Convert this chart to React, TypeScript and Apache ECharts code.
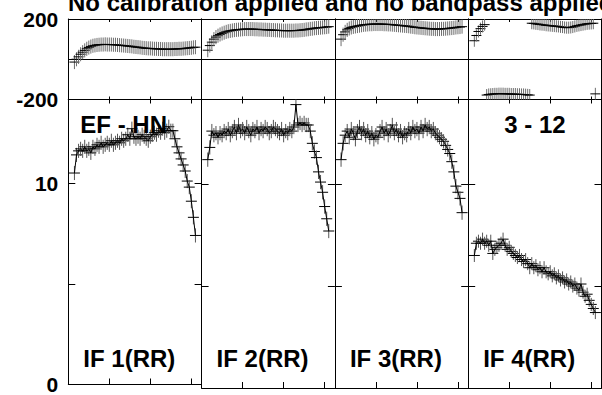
import React, { useEffect, useRef } from "react";
import * as echarts from "echarts";

const titleText = "No calibration applied and no bandpass applied";
const baselineLabel = ["EF - HN", "", "", "3 - 12"];
const panelLabels = ["IF 1(RR)", "IF 2(RR)", "IF 3(RR)", "IF 4(RR)"];

const channels = [
  3, 4, 5, 6, 7, 8, 9, 10, 11, 12, 13, 14, 15, 16, 17, 18, 19, 20, 21, 22,
  23, 24, 25, 26, 27, 28, 29, 30, 31, 32, 33, 34, 35, 36, 37, 38, 39, 40, 41, 42,
  43, 44, 45, 46, 47, 48, 49, 50, 51, 52, 53, 54, 55, 56, 57, 58, 59, 60, 61, 62,
];
const xTickValues = [20, 40, 60];
const ampTickValues = [5, 10];
const ampLabelValues = [0, 10];
const phaseLabelValues = [-200, 200];

const phaseIF1 = [
  -14, 0, 12, 25, 35, 44, 52, 58, 63, 67,
  69, 71, 72, 73, 73, 74, 73, 73, 73, 72,
  72, 71, 70, 69, 68, 67, 66, 65, 64, 62,
  61, 60, 59, 57, 56, 55, 54, 54, 53, 52,
  52, 51, 51, 50, 50, 50, 50, 50, 50, 51,
  51, 52, 52, 53, 54, 55, 56, 57, 59, 60,
];
const phaseIF2 = [
  45, 68, 85, 100, 110, 117, 123, 128, 132, 136,
  139, 141, 143, 145, 146, 147, 148, 149, 150, 150,
  150, 150, 150, 149, 149, 148, 148, 147, 147, 146,
  146, 145, 145, 144, 144, 143, 143, 142, 142, 142,
  142, 142, 142, 143, 143, 144, 145, 146, 148, 149,
  151, 152, 154, 155, 156, 157, 158, 159, 160, 162,
];
const phaseIF3 = [
  100, 122, 136, 146, 153, 158, 161, 163, 165, 167,
  169, 171, 172, 173, 174, 174, 175, 175, 175, 175,
  175, 174, 174, 173, 173, 172, 171, 170, 169, 168,
  167, 166, 165, 164, 162, 161, 159, 158, 157, 156,
  155, 154, 153, 152, 151, 151, 150, 150, 150, 151,
  151, 152, 153, 154, 155, 156, 158, 159, 160, 162,
];
const phaseIF4 = [
  92, 118, 138, 152, 163, 172, -178, -175, -174, -173,
  -172, -172, -171, -171, -171, -172, -172, -172, -173, -173,
  -173, -174, -174, -175, -175, -176, -177, -178, 179, 178,
  176, 175, 173, 172, 171, 169, 168, 167, 166, 165,
  164, 163, 161, 160, 158, 157, 157, 158, 160, 163,
  166, 168, 170, 172, 174, 176, 177, 178, 179, -172,
];

const ampIF1 = [
  10.5, 11.4, 11.6, 11.7, 11.6, 11.8, 11.6, 11.7, 11.5, 11.8,
  11.7, 11.9, 11.8, 12.0, 11.8, 11.9, 12.0, 11.9, 12.1, 11.9,
  12.0, 12.1, 12.0, 12.2, 12.1, 12.2, 12.4, 12.2, 12.7, 12.3,
  12.2, 12.3, 12.2, 12.4, 12.3, 12.2, 12.1, 12.3, 12.4, 12.5,
  12.4, 12.6, 12.5, 12.7, 12.5, 12.6, 12.8, 12.6, 12.6, 12.2,
  11.8, 11.5, 11.2, 10.9, 10.6, 10.1, 9.8, 9.1, 8.3, 7.4,
];
const ampIF2 = [
  11.2, 11.8, 12.6, 12.4, 12.5, 12.3, 12.5, 12.4, 12.6, 12.5,
  12.7, 12.4, 12.6, 12.8, 12.5, 12.9, 12.6, 12.7, 12.5, 12.8,
  12.6, 12.4, 12.7, 12.6, 12.8, 12.5, 12.7, 12.6, 12.8, 12.7,
  12.5, 12.6, 12.8, 12.7, 12.6, 12.5, 12.7, 12.4, 12.6, 12.5,
  12.7, 12.6, 12.8, 13.9, 12.9, 13.0, 12.9, 13.0, 12.9, 12.9,
  12.6, 12.0, 11.6, 11.3, 10.6, 10.1, 9.6, 8.9, 8.3, 7.7,
];
const ampIF3 = [
  11.2, 12.0, 12.4, 12.6, 12.3, 12.7, 12.5, 12.2, 12.6, 12.8,
  12.5, 12.7, 12.4, 12.6, 12.3, 12.5, 12.2, 12.4, 12.3, 12.6,
  12.8, 12.5, 12.7, 12.4, 12.6, 12.9, 12.5, 12.7, 12.4, 12.6,
  12.3, 12.5, 12.4, 12.7, 12.5, 12.8, 12.6, 12.7, 12.5, 12.8,
  12.6, 12.9, 12.7, 12.8, 12.6, 12.7, 12.5, 12.4, 12.3, 12.2,
  12.1, 11.9, 11.7, 11.5, 11.1, 10.6, 9.9, 9.6, 9.3, 8.6,
];
const ampIF4 = [
  6.5, 7.1, 7.2, 7.1, 7.3, 7.1, 7.2, 7.0, 7.2, 6.6,
  6.8, 6.9, 7.0, 7.1, 7.3, 7.0, 6.8, 6.9, 6.7, 6.6,
  6.5, 6.4, 6.5, 6.3, 6.2, 6.3, 6.1, 5.9, 6.1, 5.9,
  6.0, 5.8, 5.9, 5.7, 5.9, 5.7, 5.6, 5.7, 5.5, 5.6,
  5.4, 5.5, 5.3, 5.4, 5.2, 5.3, 5.1, 5.2, 5.0, 5.1,
  4.9, 4.8, 5.1, 4.7, 4.5, 4.6, 4.3, 4.1, 3.9, 3.7,
];

const phaseErr = [35, 35, 35, 30];
const ampErr = [0.35, 0.35, 0.35, 0.32];

const phases = [phaseIF1, phaseIF2, phaseIF3, phaseIF4];
const amps = [ampIF1, ampIF2, ampIF3, ampIF4];

const FONT = '"Liberation Sans", Arial, sans-serif';

export default function App() {
  const ref = useRef<HTMLDivElement>(null);

  useEffect(() => {
    if (!ref.current) return;
    const chart = echarts.init(ref.current, undefined, { renderer: "svg" });

    const left0 = 68.3;
    const pw = 133.3;
    const phTop = 19;
    const phH = 80.5;
    const amTop = 99.5;
    const amH = 288.5;

    const grids: any[] = [];
    const xAxes: any[] = [];
    const yAxes: any[] = [];
    const series: any[] = [];

    const lineStyle = { color: "#000", width: 1 };
    const labelStyle = {
      color: "#000",
      fontSize: 21,
      fontWeight: "bold",
      fontFamily: FONT,
      margin: 10,
    };

    const crossRender = (hw: number, vColor: string) => (params: any, api: any) => {
      const x = api.value(0);
      const y = api.value(1);
      const e = api.value(2);
      const p = api.coord([x, y]);
      const t = api.coord([x, y + e]);
      const b = api.coord([x, y - e]);
      const cs = params.coordSys;
      const y1 = Math.max(cs.y, Math.min(cs.y + cs.height, t[1]));
      const y2 = Math.max(cs.y, Math.min(cs.y + cs.height, b[1]));
      return {
        type: "group",
        children: [
          {
            type: "line",
            shape: { x1: p[0], y1, x2: p[0], y2 },
            style: { stroke: vColor, lineWidth: 1 },
          },
          {
            type: "line",
            shape: { x1: p[0] - hw, y1: p[1], x2: p[0] + hw, y2: p[1] },
            style: { stroke: "#000", lineWidth: 1 },
          },
        ],
      };
    };

    for (let i = 0; i < 4; i++) {
      grids.push({ left: left0 + i * pw, top: phTop, width: pw, height: phH, containLabel: false });
    }
    for (let i = 0; i < 4; i++) {
      grids.push({ left: left0 + i * pw, top: amTop, width: pw, height: amH, containLabel: false });
    }

    for (let g = 0; g < 8; g++) {
      const isAmp = g >= 4;
      const i = g % 4;
      xAxes.push({
        gridIndex: g,
        type: "value",
        min: 0,
        max: 65,
        interval: 20,
        position: "bottom",
        axisLine: { show: true, onZero: false, lineStyle },
        axisTick: {
          show: true,
          inside: true,
          length: isAmp ? 6 : 3,
          lineStyle,
          customValues: xTickValues,
        },
        axisLabel: { show: false },
        splitLine: { show: false },
      });
      xAxes.push({
        gridIndex: g,
        type: "value",
        min: 0,
        max: 65,
        interval: 20,
        position: "top",
        axisLine: { show: true, onZero: false, lineStyle },
        axisTick: {
          show: true,
          inside: true,
          length: isAmp ? 4 : 3,
          lineStyle,
          customValues: xTickValues,
        },
        axisLabel: { show: false },
        splitLine: { show: false },
      });
      if (!isAmp) {
        yAxes.push({
          gridIndex: g,
          type: "value",
          min: -200,
          max: 200,
          interval: 200,
          position: "left",
          axisLine: { show: true, onZero: false, lineStyle },
          axisTick: { show: false },
          axisLabel: {
            show: i === 0,
            ...labelStyle,
            customValues: phaseLabelValues,
          },
          splitLine: { show: true, lineStyle },
        });
      } else {
        yAxes.push({
          gridIndex: g,
          type: "value",
          min: 0,
          max: 14.15,
          interval: 5,
          position: "left",
          axisLine: { show: true, onZero: false, lineStyle },
          axisTick: {
            show: true,
            inside: true,
            length: 7,
            lineStyle,
            customValues: ampTickValues,
          },
          axisLabel: {
            show: i === 0,
            ...labelStyle,
            customValues: ampLabelValues,
          },
          splitLine: { show: false },
        });
      }
      yAxes.push({
        gridIndex: g,
        type: "value",
        min: isAmp ? 0 : -200,
        max: isAmp ? 14.15 : 200,
        interval: isAmp ? 5 : 200,
        position: "right",
        axisLine: { show: true, onZero: false, lineStyle },
        axisTick: {
          show: isAmp,
          inside: true,
          length: 7,
          lineStyle,
          customValues: ampTickValues,
        },
        axisLabel: { show: false },
        splitLine: { show: false },
      });
    }

    for (let i = 0; i < 4; i++) {
      const ph = phases[i];
      const am = amps[i];
      series.push({
        type: "custom",
        xAxisIndex: i * 2,
        yAxisIndex: i * 2,
        renderItem: crossRender(5, "#6e6e6e"),
        data: channels.map((c, k) => [c, ph[k], phaseErr[i]]),
        silent: true,
      });
      series.push({
        type: "line",
        xAxisIndex: (4 + i) * 2,
        yAxisIndex: (4 + i) * 2,
        data: channels.map((c, k) => [c, am[k]]),
        showSymbol: false,
        symbol: "none",
        lineStyle: { color: "#000", width: 1 },
        silent: true,
      });
      series.push({
        type: "custom",
        xAxisIndex: (4 + i) * 2,
        yAxisIndex: (4 + i) * 2,
        renderItem: crossRender(5.5, "#555"),
        data: channels.map((c, k) => [c, am[k], ampErr[i]]),
        silent: true,
      });
    }

    const textFont = `bold 24px ${FONT}`;
    const graphic: any[] = [
      {
        type: "text",
        left: 68,
        top: -10,
        style: { text: titleText, font: textFont, fill: "#000" },
        z: 10,
      },
    ];
    for (let i = 0; i < 4; i++) {
      const left = left0 + i * pw;
      if (baselineLabel[i]) {
        graphic.push({
          type: "text",
          x: i === 0 ? left + 12 : left + 36,
          y: 124.6,
          style: {
            text: baselineLabel[i],
            font: textFont,
            fill: "#000",
            verticalAlign: "middle",
          },
          z: 10,
        });
      }
      graphic.push({
        type: "text",
        x: left + 15,
        y: 358.3,
        style: {
          text: panelLabels[i],
          font: textFont,
          fill: "#000",
          verticalAlign: "middle",
        },
        z: 10,
      });
    }

    chart.setOption({
      animation: false,
      backgroundColor: "#fff",
      grid: grids,
      xAxis: xAxes,
      yAxis: yAxes,
      series,
      graphic,
    });

    return () => chart.dispose();
  }, []);

  return (
    <div
      ref={ref}
      style={{ position: "fixed", left: 0, top: 0, width: 602, height: 395, background: "#fff" }}
    />
  );
}
